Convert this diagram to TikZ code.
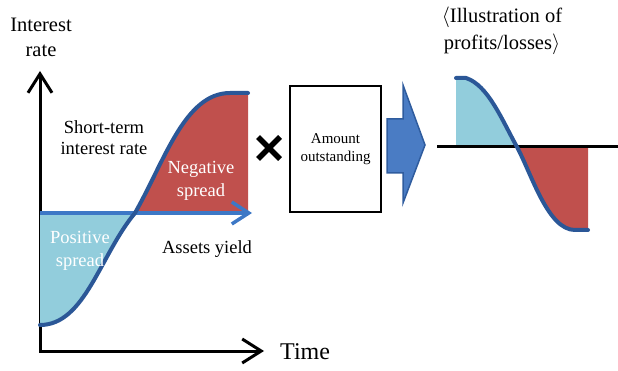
\documentclass[tikz,border=0pt]{standalone}
\usepackage{fontspec}
\setmainfont{Liberation Serif}
\usetikzlibrary{arrows.meta,calc}
\definecolor{curveblue}{RGB}{43,87,151}
\definecolor{yieldblue}{RGB}{61,120,198}
\definecolor{posfill}{RGB}{146,205,220}
\definecolor{negfill}{RGB}{192,80,77}
\definecolor{blockfill}{RGB}{74,124,196}
\definecolor{blockline}{RGB}{47,92,158}

\begin{document}
\begin{tikzpicture}[x=1pt,y=-1pt,
  >={Straight Barb[length=19pt,width=24pt]},
  axis/.style={line width=3pt,line join=miter,<->},
  rate/.style={curveblue,line width=4pt,line cap=round},
  lbl/.style={font=\fontsize{18.5}{21}\selectfont,align=center,inner sep=0pt},
  inlbl/.style={lbl,text=white,font=\fontsize{18.5}{23}\selectfont}]
\useasboundingbox (0,0) rectangle (618,371);
					%AXES
					\coordinate (O) at (40,351);
					\coordinate (ytip) at (40,71);
					\coordinate (xtip) at (264,351);
					\draw[axis] (ytip) -- (O) -- (xtip);
					\node[lbl,font=\fontsize{20.5}{25}\selectfont] (ylabel) at (41,37) {Interest\\rate};
					\node[lbl,font=\fontsize{24}{26}\selectfont,anchor=west] (xlabel) at (280,352) {Time};
					%SPREADS
					\coordinate (lowL) at (40,325);
					\coordinate (crossL) at (135,213);
					\coordinate (topL) at (230,93);
					\coordinate (endL) at (248,93);
					\fill[posfill] (40,213) -- (lowL) .. controls (85,325) and (100,255) .. (crossL) -- cycle;
					\fill[negfill] (crossL) .. controls (165,160) and (185,93) .. (topL) -- (endL) -- (248,213) -- cycle;
					\coordinate (ystart) at (40,213);
					\coordinate (ytipB) at (252,213);
					\draw[yieldblue,line width=3.5pt,-{Straight Barb[length=17pt,width=22pt]}] (ystart) -- (ytipB);
					\draw[rate] (lowL) .. controls (85,325) and (100,255) .. (crossL)
					  .. controls (165,160) and (185,93) .. (topL) -- (endL);
					\node[lbl] (short) at (104,138) {Short-term\\interest rate};
					\node[inlbl] (neg) at (201,181) {Negative\\spread};
					\node[inlbl] (pos) at (80,251) {Positive\\spread};
					\node[lbl] (yield) at (207,249) {Assets yield};
					%TIMES
					\coordinate (times) at (269,148);
					\draw[line width=5.5pt] ($(times)+(-11,-11)$) -- ($(times)+(11,11)$)
					  ($(times)+(-11,11)$) -- ($(times)+(11,-11)$);
					\node[draw,line width=2pt,minimum width=91pt,minimum height=126pt,
					  font=\fontsize{15}{18}\selectfont,align=center] (amount) at (335.5,149) {Amount\\outstanding};
					%BLOCK ARROW
					\draw[blockline,fill=blockfill,line width=1.5pt,line join=miter]
					  (387,119) -- (403,119) -- (403,85) -- (425,145) -- (403,203) -- (403,173) -- (387,173) -- cycle;
					%PROFITS / LOSSES
					\node[lbl,font=\fontsize{20.5}{27}\selectfont] (title) at (502,31) {$\langle$Illustration of\\profits/losses$\rangle$};
					\coordinate (lineL) at (437,147);
					\coordinate (lineR) at (618,147);
					\coordinate (topR) at (456,78);
					\coordinate (crossR) at (517,147);
					\coordinate (lowR) at (575,230);
					\coordinate (endR) at (588,230);
					\fill[posfill] (456,147) -- (topR) -- (466,78) .. controls (488,85) and (502,120) .. (crossR) -- cycle;
					\fill[negfill] (crossR) .. controls (532,175) and (548,230) .. (lowR) -- (endR) -- (588,147) -- cycle;
					\draw[line width=3pt] (lineL) -- (lineR);
					\draw[rate] (topR) -- (466,78) .. controls (488,85) and (502,120) .. (crossR)
					  .. controls (532,175) and (548,230) .. (lowR) -- (endR);
\end{tikzpicture}
\end{document}
